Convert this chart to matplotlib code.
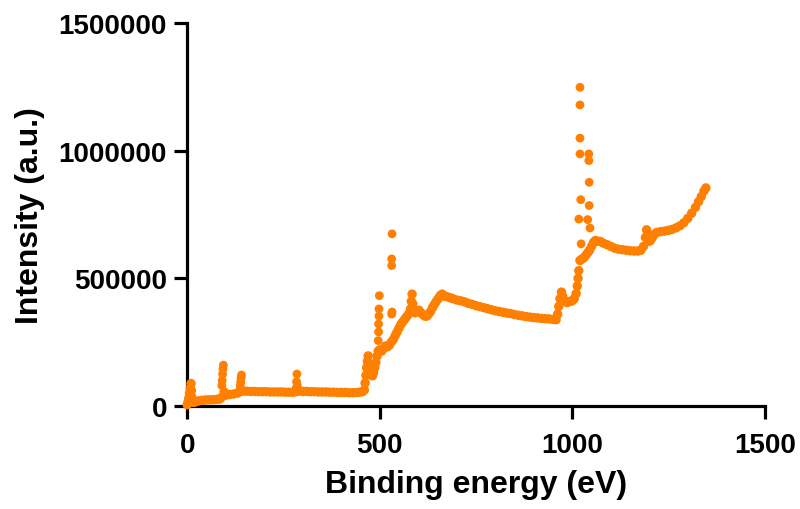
import matplotlib
matplotlib.use("Agg")
import matplotlib.pyplot as plt

# XPS survey spectrum - main band (binding energy in eV, intensity in counts)
band_ev = [0, 2, 4, 6, 8, 10, 11, 12, 14, 18, 24, 30, 38, 46, 54, 62, 70, 78, 84, 88,
           96, 100, 110, 120, 130, 136, 145, 155, 165, 175, 185, 195, 205, 215, 225,
           235, 245, 255, 265, 275, 282, 290, 300, 310, 320, 330, 340, 350, 360, 370,
           380, 390, 400, 410, 420, 430, 440, 448, 455,
           460, 462, 464, 466, 468, 470, 472, 475, 478, 481, 484, 487, 490, 493, 496,
           500, 505, 510, 515, 520, 525, 530, 535, 540, 545, 550, 555, 560, 565, 570,
           575, 580, 582, 584, 586, 588, 592, 597, 602, 607, 612, 617, 622, 627, 632,
           637, 642, 647, 652, 657, 662, 668, 675, 683, 690, 700, 710, 720, 730, 740,
           750, 760, 770, 780, 790, 800, 810, 820, 830, 840, 850, 860, 870, 880, 890,
           900, 910, 920, 930, 940, 950, 958, 962, 965, 968, 972, 975, 978, 982, 986,
           990, 995, 1000, 1005, 1010, 1013, 1015, 1017, 1020, 1025, 1030, 1035, 1040,
           1045, 1050, 1055, 1060, 1065, 1072, 1080, 1090, 1100, 1110, 1120, 1130, 1140,
           1150, 1160, 1170, 1178, 1185, 1190, 1193, 1196, 1199, 1203, 1208, 1213, 1220,
           1230, 1240, 1250, 1260, 1270, 1280, 1290, 1300, 1310, 1320, 1328, 1335, 1342,
           1347]
band_counts = [5000, 15000, 30000, 50000, 70000, 88000, 60000, 35000, 15000, 14000,
               18000, 20000, 22000, 23000, 24000, 24000, 25000, 26000, 27000, 32000,
               55000, 42000, 45000, 47000, 50000, 55000, 58000, 58000, 57000, 57000,
               56000, 56000, 56000, 55000, 55000, 55000, 55000, 54000, 54000, 54000,
               56000, 58000, 57000, 57000, 56000, 56000, 55000, 55000, 55000, 54000,
               54000, 53000, 53000, 53000, 52000, 52000, 53000, 54000, 56000,
               62000, 90000, 120000, 150000, 175000, 196000, 160000, 140000, 125000,
               118000, 130000, 150000, 170000, 195000, 215000,
               220000, 215000, 225000, 235000, 232000, 238000, 250000, 260000, 275000,
               290000, 305000, 320000, 330000, 340000, 350000,
               360000, 380000, 410000, 438000, 400000, 375000, 365000, 372000, 375000,
               365000, 358000, 352000, 352000, 360000, 370000,
               385000, 398000, 410000, 420000, 432000, 438000, 430000, 428000, 424000,
               420000, 415000, 412000, 408000, 402000, 398000,
               393000, 389000, 385000, 381000, 377000, 373000, 370000, 367000, 364000,
               362000, 358000, 355000, 353000, 350000, 348000,
               346000, 345000, 343000, 342000, 341000, 339000, 338000, 360000, 390000,
               420000, 446000, 430000, 415000, 410000, 405000,
               408000, 410000, 412000, 420000, 440000, 470000, 500000, 530000, 570000,
               575000, 580000, 590000, 600000,
               610000, 625000, 640000, 648000, 645000, 645000, 638000, 632000, 625000,
               618000, 614000, 612000, 610000,
               608000, 607000, 607000, 610000, 625000, 660000, 690000, 670000, 645000,
               648000, 660000, 672000, 680000,
               683000, 685000, 688000, 692000, 698000, 706000, 718000, 735000, 755000,
               778000, 800000, 820000, 842000,
               854000]

# isolated points on the sharp photoemission peaks
peak_ev = [90, 91, 92, 93, 94, 137, 138, 139, 140, 141, 283, 284, 285, 286,
           496, 497, 497, 498, 498, 499, 531, 531, 531, 532, 532,
           1017, 1020, 1020, 1020, 1020, 1022, 1023,
           1040, 1043, 1043, 1044, 1044, 1046]
peak_counts = [80000, 100000, 125000, 145000, 160000, 65000, 80000, 95000, 110000, 121000,
               70000, 95000, 125000, 80000,
               256000, 290000, 321000, 352000, 380000, 432000, 360000, 550000, 576000,
               674000, 368000,
               732000, 987000, 1049000, 1179000, 1248000, 808000, 635000,
               730000, 987000, 961000, 876000, 785000, 697000]

ORANGE = '#FF8000'

plt.rcParams['font.family'] = ['Liberation Sans', 'DejaVu Sans']
plt.rcParams['font.weight'] = 'bold'

fig = plt.figure(figsize=(8, 5.1), dpi=100)
ax = fig.add_axes([0.234, 0.202, 0.722, 0.751])

ax.scatter(band_ev, band_counts, s=46, c=ORANGE, edgecolors='none', clip_on=False, zorder=3)
ax.scatter(peak_ev, peak_counts, s=40, c=ORANGE, edgecolors='none', clip_on=False, zorder=3)

ax.set_xlim(0, 1500)
ax.set_ylim(0, 1500000)
ax.set_xticks([0, 500, 1000, 1500])
ax.set_yticks([0, 500000, 1000000, 1500000])
ax.set_yticklabels(['0', '500000', '1000000', '1500000'])

for side in ['top', 'right']:
    ax.spines[side].set_visible(False)
for side in ['left', 'bottom']:
    ax.spines[side].set_linewidth(2.3)

ax.tick_params(axis='both', width=2.3, length=9.5, labelsize=20, direction='out')
ax.tick_params(axis='x', pad=9)
ax.tick_params(axis='y', pad=5)

ax.set_xlabel('Binding energy (eV)', fontsize=23, fontweight='bold', labelpad=8)
ax.set_ylabel('Intensity (a.u.)', fontsize=23, fontweight='bold', labelpad=10)

fig.savefig('out.png', dpi=100)
